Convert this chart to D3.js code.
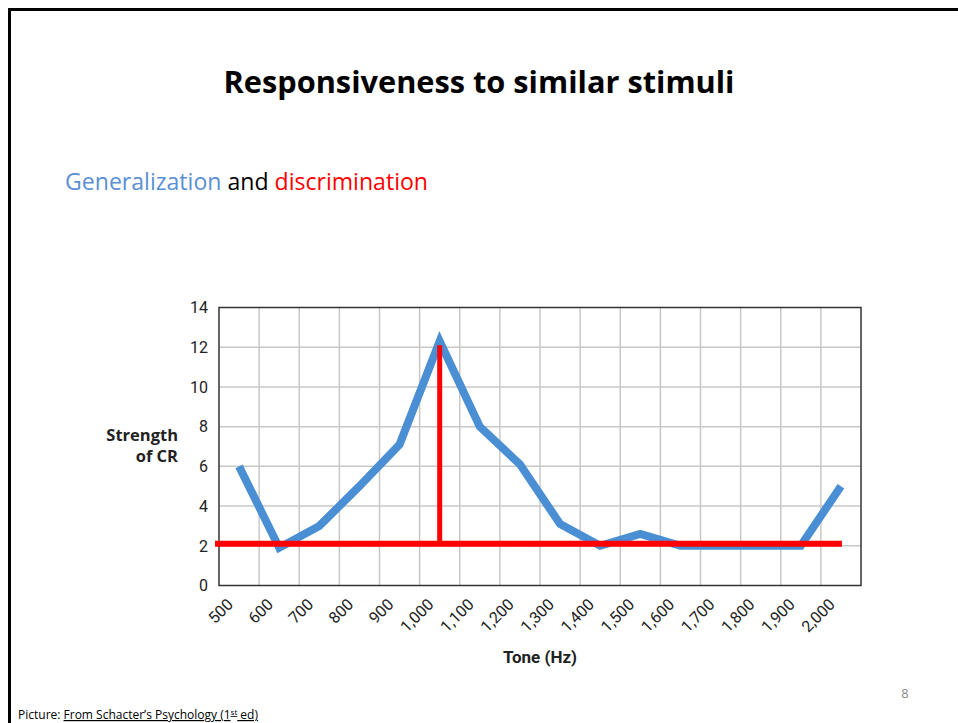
<!DOCTYPE html>
<html>
<head>
<meta charset="utf-8">
<script src="https://cdn.jsdelivr.net/npm/d3@7"></script>
<style>
  body { margin: 0; background: #fff; }
  svg { display: block; }
</style>
</head>
<body>
<div id="slide"></div>
<script>
// chart data
const tones = ['500', '600', '700', '800', '900', '1,000', '1,100', '1,200', '1,300', '1,400', '1,500', '1,600', '1,700', '1,800', '1,900', '2,000'];
const strength = [6, 1.9, 3, 5, 7.1, 12.3, 8, 6.1, 3.1, 2, 2.6, 2, 2, 2, 2, 5];
const yTicks = [0, 2, 4, 6, 8, 10, 12, 14];
const trainedTone = '1,000';
const trainedLevel = 12.1;
const baseLevel = 2.1;

const W = 958;
const H = 723;

const svg = d3.select('#slide')
  .append('svg')
  .attr('width', W)
  .attr('height', H);

// slide frame (top and left edge)
svg.append('path')
  .attr('d', `M9.5,${H} V9.5 H${W}`)
  .attr('fill', 'none')
  .attr('stroke', '#000')
  .attr('stroke-width', 3);

// title
svg.append('text')
  .attr('x', 479)
  .attr('y', 93)
  .attr('text-anchor', 'middle')
  .attr('font-family', 'Open Sans, sans-serif')
  .attr('font-weight', 'bold')
  .attr('font-size', 31)
  .attr('textLength', 511)
  .attr('lengthAdjust', 'spacingAndGlyphs')
  .text('Responsiveness to similar stimuli');

// subtitle
const sub = svg.append('text')
  .attr('x', 65)
  .attr('y', 190)
  .attr('font-family', 'Open Sans, sans-serif')
  .attr('font-size', 23)
  .attr('textLength', 363)
  .attr('lengthAdjust', 'spacingAndGlyphs');
sub.append('tspan').attr('fill', '#5b8fd6').text('Generalization');
sub.append('tspan').attr('fill', '#000').text(' and ');
sub.append('tspan').attr('fill', '#ff0000').text('discrimination');

// chart area
const margin = { top: 307.5, left: 219, right: 861, bottom: 585.5 };

const x = d3.scalePoint()
  .domain(tones)
  .range([margin.left, margin.right])
  .padding(0.5);

const y = d3.scaleLinear()
  .domain([0, 14])
  .range([margin.bottom, margin.top]);

const step = x.step();

const chart = svg.append('g');

// vertical grid at column boundaries
chart.append('g')
  .selectAll('line')
  .data(tones.slice(0, -1))
  .join('line')
  .attr('x1', d => x(d) + step / 2)
  .attr('x2', d => x(d) + step / 2)
  .attr('y1', margin.top)
  .attr('y2', margin.bottom)
  .attr('stroke', '#c8c8c8')
  .attr('stroke-width', 1.5);

// horizontal grid
chart.append('g')
  .selectAll('line')
  .data(yTicks.slice(1, -1))
  .join('line')
  .attr('x1', margin.left)
  .attr('x2', margin.right)
  .attr('y1', d => y(d))
  .attr('y2', d => y(d))
  .attr('stroke', '#c8c8c8')
  .attr('stroke-width', 1.5);

// frame
chart.append('rect')
  .attr('x', margin.left)
  .attr('y', margin.top)
  .attr('width', margin.right - margin.left)
  .attr('height', margin.bottom - margin.top)
  .attr('fill', 'none')
  .attr('stroke', '#333')
  .attr('stroke-width', 1.5);

// y tick labels
chart.append('g')
  .selectAll('text')
  .data(yTicks)
  .join('text')
  .attr('x', 208)
  .attr('y', d => y(d))
  .attr('dy', '0.36em')
  .attr('text-anchor', 'end')
  .attr('font-family', 'Roboto, sans-serif')
  .attr('font-size', 16)
  .attr('fill', '#222')
  .text(d => d);

// x tick labels
chart.append('g')
  .selectAll('text')
  .data(tones)
  .join('text')
  .attr('transform', d => `translate(${x(d) - 9},${margin.bottom + 16}) rotate(-45)`)
  .attr('text-anchor', 'end')
  .attr('dy', '0.35em')
  .attr('font-family', 'Roboto, sans-serif')
  .attr('font-size', 16)
  .attr('fill', '#222')
  .text(d => d);

// axis titles
chart.append('text')
  .attr('x', 178)
  .attr('y', 441)
  .attr('text-anchor', 'end')
  .attr('font-family', 'Open Sans, sans-serif')
  .attr('font-weight', 'bold')
  .attr('font-size', 16.5)
  .attr('fill', '#222')
  .text('Strength');

chart.append('text')
  .attr('x', 178)
  .attr('y', 462)
  .attr('text-anchor', 'end')
  .attr('font-family', 'Open Sans, sans-serif')
  .attr('font-weight', 'bold')
  .attr('font-size', 16.5)
  .attr('fill', '#222')
  .text('of CR');

chart.append('text')
  .attr('x', (margin.left + margin.right) / 2)
  .attr('y', 663)
  .attr('text-anchor', 'middle')
  .attr('font-family', 'Roboto, sans-serif')
  .attr('font-weight', 'bold')
  .attr('font-size', 17)
  .attr('fill', '#222')
  .text('Tone (Hz)');

// generalization curve
const line = d3.line()
  .x((d, i) => x(tones[i]))
  .y(d => y(d));

chart.append('path')
  .attr('d', line(strength))
  .attr('fill', 'none')
  .attr('stroke', '#4a8fd4')
  .attr('stroke-width', 8)
  .attr('stroke-linejoin', 'miter');

// discrimination lines
chart.append('line')
  .attr('x1', x(trainedTone))
  .attr('x2', x(trainedTone))
  .attr('y1', y(trainedLevel))
  .attr('y2', y(baseLevel))
  .attr('stroke', '#ff0000')
  .attr('stroke-width', 5);

chart.append('line')
  .attr('x1', margin.left - 4)
  .attr('x2', x(tones[tones.length - 1]) + 1)
  .attr('y1', y(baseLevel))
  .attr('y2', y(baseLevel))
  .attr('stroke', '#ff0000')
  .attr('stroke-width', 6);

// page number
svg.append('text')
  .attr('x', 905)
  .attr('y', 698)
  .attr('text-anchor', 'middle')
  .attr('font-family', 'Open Sans, sans-serif')
  .attr('font-size', 13)
  .attr('fill', '#8a8a8a')
  .text('8');

// source note
const note = svg.append('text')
  .attr('x', 18)
  .attr('y', 719)
  .attr('font-family', 'Open Sans, sans-serif')
  .attr('font-size', 12)
  .attr('fill', '#000');
note.append('tspan').text('Picture: ');
const src = note.append('tspan').attr('text-decoration', 'underline');
src.append('tspan').text('From Schacter\u2019s Psychology (1');
src.append('tspan').attr('font-size', 8).attr('dy', -4).text('st');
src.append('tspan').attr('dy', 4).text(' ed)');
</script>
</body>
</html>
